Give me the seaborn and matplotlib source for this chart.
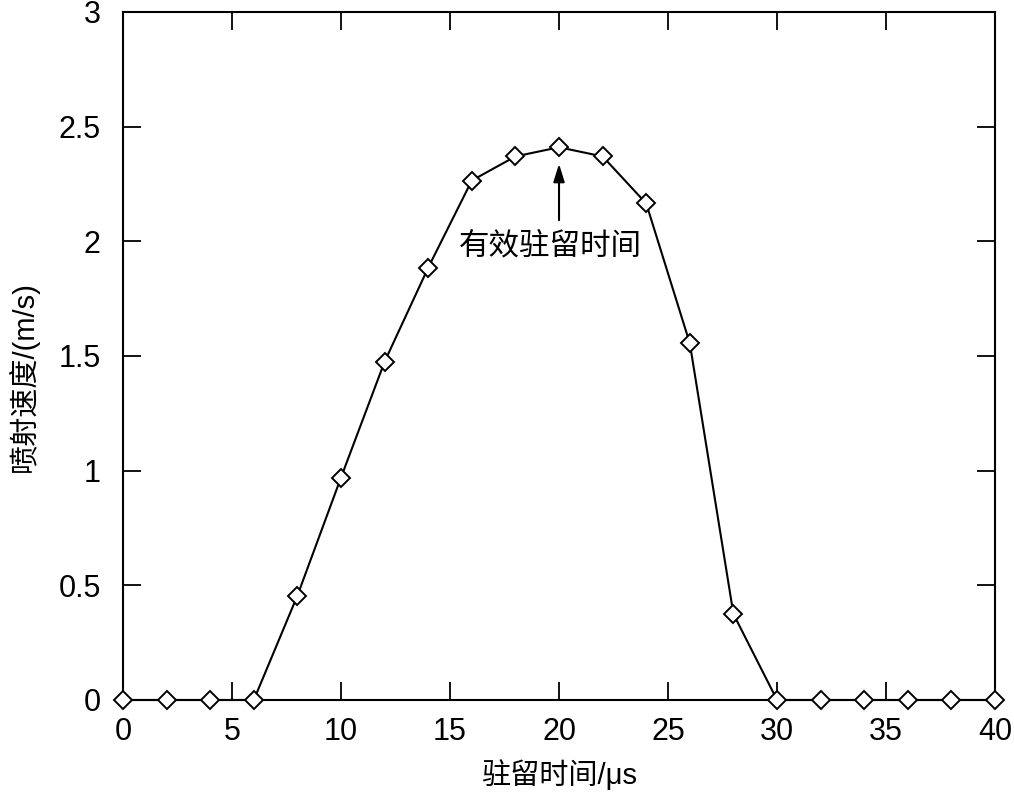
import numpy as np
import pandas as pd
import seaborn as sns
import matplotlib
matplotlib.use("Agg")
import matplotlib.pyplot as plt

# dwell time (us) and jet velocity (m/s)
dwell_time = [0, 2, 4, 6, 8, 10, 12, 14, 16, 18, 20,
              22, 24, 26, 28, 30, 32, 34, 36, 38, 40]
jet_speed = [0, 0, 0, 0, 0.455, 0.97, 1.475, 1.885, 2.265, 2.37, 2.41,
             2.37, 2.165, 1.555, 0.375, 0, 0, 0, 0, 0, 0]
x_ticks = [0, 5, 10, 15, 20, 25, 30, 35, 40]
y_ticks = [0, 0.5, 1, 1.5, 2, 2.5, 3]
y_tick_labels = ["0", "0.5", "1", "1.5", "2", "2.5", "3"]

df = pd.DataFrame({"t": dwell_time, "v": jet_speed})

sns.set_theme(style="ticks")
plt.rcParams["font.family"] = ["Liberation Sans", "Noto Sans CJK SC", "DejaVu Sans"]
plt.rcParams["axes.unicode_minus"] = False

fig = plt.figure(figsize=(10.14, 8.01), dpi=100)
ax = fig.add_axes([0.1213, 0.1261, 0.86, 0.859])

sns.lineplot(data=df, x="t", y="v", ax=ax, color="black", linewidth=1.5,
             marker="D", markersize=9, markerfacecolor="white",
             markeredgecolor="black", markeredgewidth=1.4, clip_on=False,
             zorder=5)

ax.set_xlim(0, 40)
ax.set_ylim(0, 3)
ax.set_xticks(x_ticks)
ax.set_yticks(y_ticks)
ax.set_yticklabels(y_tick_labels)

ax.tick_params(axis="both", direction="in", top=True, right=True,
               length=13, width=1.3, labelsize=22, color="black",
               labelcolor="black")
ax.tick_params(axis="x", pad=12)
ax.tick_params(axis="y", pad=16)
for spine in ax.spines.values():
    spine.set_visible(True)
    spine.set_linewidth(1.5)
    spine.set_color("black")

ax.set_xlabel("驻留时间/μs", fontsize=21, color="black")
ax.set_ylabel("喷射速度/(m/s)", fontsize=21, color="black")
ax.xaxis.set_label_coords(0.5, -0.086)
ax.yaxis.set_label_coords(-0.097, 0.47)

# peak annotation
ax.annotate("", xy=(20, 2.35), xytext=(20, 2.08),
            arrowprops=dict(arrowstyle="-|>,head_length=0.9,head_width=0.28",
                            color="black", lw=1.5))
ax.text(19.6, 1.98, "有效驻留时间", fontsize=22, ha="center", va="center",
        family=["Noto Sans CJK SC", "DejaVu Sans"], color="black")

fig.savefig("out.png", dpi=100, facecolor="white")
